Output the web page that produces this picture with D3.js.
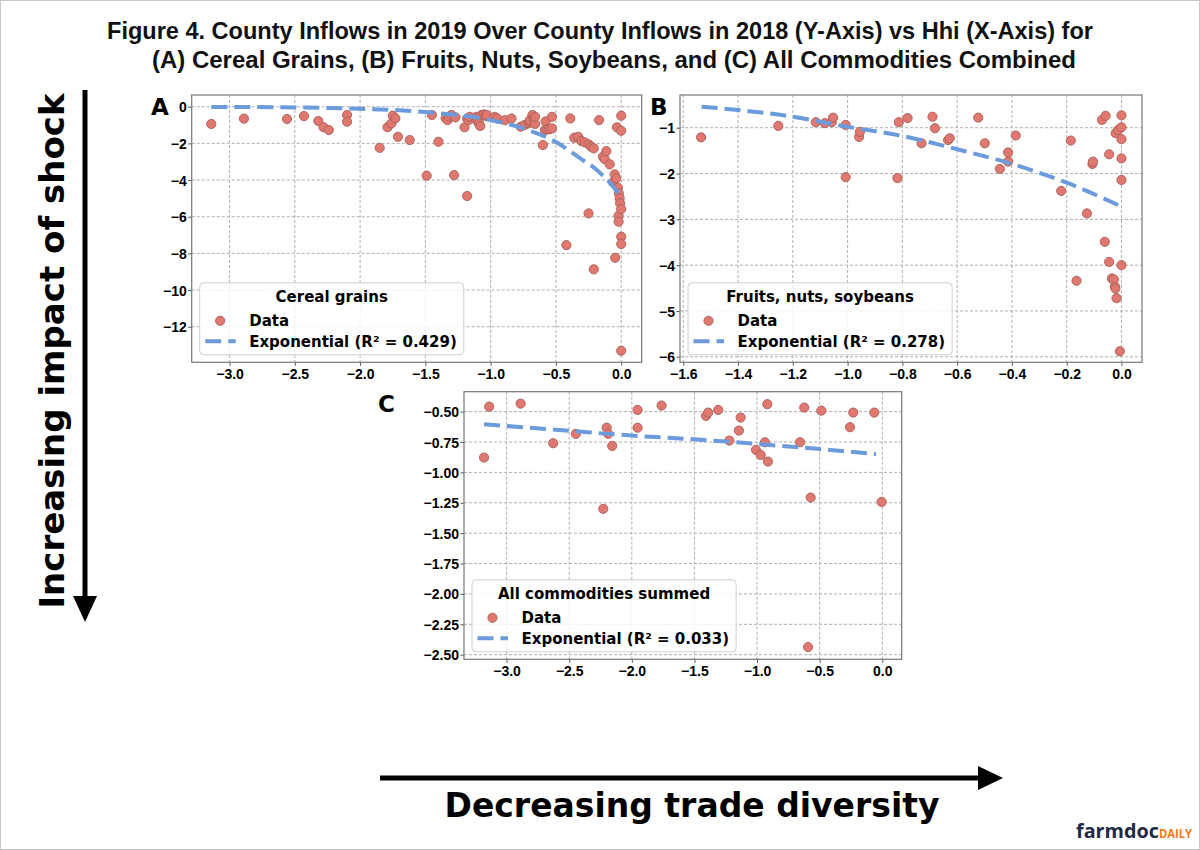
<!DOCTYPE html>
<html>
<head>
<meta charset="utf-8">
<script src="https://cdn.jsdelivr.net/npm/d3@7"></script>
<style>
body { margin: 0; background: #fff; }
svg { display: block; font-family: "DejaVu Sans", sans-serif; }
.tick text { font-weight: bold; font-size: 14px; fill: #000; }
.tick line { stroke: #555; }
.grid line { stroke: #b0b0b0; stroke-width: 1; stroke-dasharray: 3,2; }
.legend text { font-weight: bold; font-size: 15px; fill: #000; }
</style>
</head>
<body>
<svg id="chart" width="1200" height="850"></svg>
<script>
// ---- panel A: cereal grains ----
const cerealX = [-3.14,-2.89,-2.56,-2.43,-2.32,-2.28,-2.24,-2.10,-2.10,-1.85,-1.79,-1.76,-1.75,-1.73,-1.71,-1.62,
  -1.49,-1.45,-1.40,-1.345,-1.33,-1.32,-1.30,-1.28,-1.27,-1.20,-1.18,-1.18,-1.17,-1.16,-1.11,-1.11,-1.10,-1.09,-1.08,
  -1.07,-1.05,-1.04,-1.03,-0.97,-0.95,-0.89,-0.84,-0.77,-0.74,-0.71,-0.70,-0.70,-0.68,-0.67,-0.66,-0.66,-0.60,-0.585,
  -0.58,-0.57,-0.55,-0.53,-0.53,-0.42,-0.39,-0.36,-0.33,-0.305,-0.28,-0.25,-0.25,-0.23,-0.21,-0.21,-0.17,-0.14,-0.127,
  -0.114,-0.088,-0.063,-0.05,-0.046,-0.038,-0.033,-0.025,-0.02,-0.02,-0.018,-0.012,-0.008,0,0,0,0,0,0];
const cerealY = [-0.94,-0.65,-0.67,-0.51,-0.78,-1.12,-1.27,-0.45,-0.82,-2.24,-1.12,-0.91,-0.49,-0.63,-1.64,-1.82,
  -3.76,-0.45,-1.91,-0.63,-0.73,-0.54,-0.45,-3.73,-0.58,-1.12,-4.87,-0.64,-0.73,-0.55,-0.73,-0.55,-0.62,-0.91,-1.05,
  -0.45,-0.42,-0.50,-0.45,-0.55,-0.64,-0.73,-0.64,-1.09,-1.00,-0.91,-0.82,-0.73,-0.45,-0.64,-0.94,-0.55,-2.09,-1.27,
  -0.80,-1.23,-1.23,-1.18,-0.55,-7.55,-0.64,-1.69,-1.64,-1.87,-1.94,-2.05,-5.82,-2.18,-8.87,-2.27,-0.73,-2.73,-2.85,
  -2.42,-3.14,-4.12,-3.69,-8.24,-3.91,-1.12,-4.42,-5.95,-6.27,-4.73,-5.00,-5.27,-5.58,-7.09,-7.49,-0.49,-1.31,-13.31];
const cerealFitX = [-3.14,-2.5,-2.0,-1.5,-1.0,-0.75,-0.5,-0.3,-0.2,-0.1,0];
const cerealFitY = [-0.01,-0.04,-0.11,-0.29,-0.73,-1.18,-1.93,-2.88,-3.37,-4.05,-4.91];

// ---- panel B: fruits, nuts, soybeans ----
const fruitX = [-1.535,-1.253,-1.116,-1.083,-1.058,-1.053,-1.007,-1.007,-0.958,-0.955,-0.818,-0.813,-0.781,-0.73,
  -0.69,-0.681,-0.633,-0.627,-0.523,-0.499,-0.444,-0.414,-0.414,-0.386,-0.22,-0.185,-0.164,-0.126,-0.106,-0.104,
  -0.071,-0.058,-0.061,-0.045,-0.045,-0.035,-0.028,-0.024,-0.022,-0.018,-0.021,-0.012,0,0,0,0,0,0,-0.006];
const fruitY = [-1.21,-0.96,-0.88,-0.90,-0.88,-0.78,-0.94,-2.08,-1.20,-1.09,-2.10,-0.88,-0.79,-1.34,
  -0.76,-1.01,-1.27,-1.23,-0.78,-1.34,-1.90,-1.54,-1.74,-1.17,-2.38,-1.28,-4.34,-2.87,-1.79,-1.74,
  -0.83,-0.74,-3.49,-1.58,-3.93,-4.29,-4.31,-4.47,-4.51,-4.72,-1.12,-1.05,-0.73,-0.99,-1.25,-1.67,-2.14,-4.00,-5.88];
const fruitFitX = [-1.533,-1.2,-1.0,-0.8,-0.6,-0.4,-0.2,0];
const fruitFitY = [-0.54,-0.76,-0.98,-1.18,-1.47,-1.79,-2.20,-2.72];

// ---- panel C: all commodities ----
const allX = [-3.18,-3.139,-2.888,-2.628,-2.447,-2.228,-2.201,-2.188,-2.157,-1.954,-1.954,-1.762,-1.408,-1.39,-1.31,
  -1.222,-1.145,-1.131,-1.009,-0.971,-0.937,-0.918,-0.913,-0.657,-0.623,-0.572,-0.487,-0.593,-0.258,-0.232,-0.064,-0.005];
const allY = [-0.878,-0.459,-0.434,-0.76,-0.683,-1.30,-0.632,-0.683,-0.782,-0.486,-0.632,-0.45,-0.535,-0.508,-0.486,
  -0.738,-0.656,-0.549,-0.815,-0.856,-0.752,-0.439,-0.911,-0.752,-0.467,-1.207,-0.492,-2.437,-0.628,-0.508,-0.508,-1.243];
const allFitX = [-3.18,-2.5,-2.0,-1.5,-1.0,-0.5,-0.05];
const allFitY = [-0.604,-0.658,-0.697,-0.728,-0.766,-0.808,-0.850];

// axis limits and ticks
const cerealXLim = [-3.29, 0.157], cerealYLim = [-13.94, 0.64];
const fruitXLim = [-1.612, 0.075], fruitYLim = [-6.12, -0.286];
const allXLim = [-3.34, 0.155], allYLim = [-2.538, -0.336];
const cerealXTicks = [-3.0,-2.5,-2.0,-1.5,-1.0,-0.5,0.0];
const cerealYTicks = [0,-2,-4,-6,-8,-10,-12];
const fruitXTicks = [-1.6,-1.4,-1.2,-1.0,-0.8,-0.6,-0.4,-0.2,0.0];
const fruitYTicks = [-1,-2,-3,-4,-5,-6];
const allXTicks = [-3.0,-2.5,-2.0,-1.5,-1.0,-0.5,0.0];
const allYTicks = [-0.5,-0.75,-1.0,-1.25,-1.5,-1.75,-2.0,-2.25,-2.5];

const svg = d3.select("#chart");

svg.append("rect").attr("x", 0.5).attr("y", 0.5).attr("width", 1199).attr("height", 849)
  .attr("fill", "#fff").attr("stroke", "#c8c8c8");

const title = svg.append("g").attr("font-family", "Liberation Sans, Arial, sans-serif")
  .attr("font-weight", "bold").attr("font-size", 23).attr("text-anchor", "middle").attr("fill", "#111");
title.append("text").attr("x", 600).attr("y", 39).attr("textLength", 986).attr("lengthAdjust", "spacingAndGlyphs")
  .text("Figure 4. County Inflows in 2019 Over County Inflows in 2018 (Y-Axis) vs Hhi (X-Axis) for");
title.append("text").attr("x", 614).attr("y", 68).attr("textLength", 924).attr("lengthAdjust", "spacingAndGlyphs")
  .text("(A) Cereal Grains, (B) Fruits, Nuts, Soybeans, and (C) All Commodities Combined");

function drawPanel(p) {
  const x = d3.scaleLinear().domain(p.xLim).range([p.left, p.right]);
  const y = d3.scaleLinear().domain(p.yLim).range([p.bottom, p.top]);
  const g = svg.append("g");

  // grid
  const grid = g.append("g").attr("class", "grid");
  grid.selectAll(".gx").data(p.xTicks).join("line")
    .attr("x1", d => x(d)).attr("x2", d => x(d)).attr("y1", p.top).attr("y2", p.bottom);
  grid.selectAll(".gy").data(p.yTicks).join("line").attr("class", "gy")
    .attr("y1", d => y(d)).attr("y2", d => y(d)).attr("x1", p.left).attr("x2", p.right);

  // axes
  g.append("g").attr("transform", `translate(0,${p.bottom})`)
    .call(d3.axisBottom(x).tickValues(p.xTicks).tickFormat(d3.format(p.xFmt)).tickSize(3.5).tickPadding(3.5))
    .call(a => a.select(".domain").remove());
  g.append("g").attr("transform", `translate(${p.left},0)`)
    .call(d3.axisLeft(y).tickValues(p.yTicks).tickFormat(d3.format(p.yFmt)).tickSize(3.5).tickPadding(1.5))
    .call(a => a.select(".domain").remove())
    .call(a => a.selectAll("text").attr("dy", "0.36em"));
  g.selectAll(".tick").attr("font-family", null).attr("font-size", null);

  // points
  const pts = p.xs.map((d, i) => [d, p.ys[i]]);
  g.append("g").selectAll("circle").data(pts).join("circle")
    .attr("cx", d => x(d[0])).attr("cy", d => y(d[1])).attr("r", 4.6)
    .attr("fill", "#e07870").attr("stroke", "#a85f58").attr("stroke-width", 0.9);

  // fit line
  const fit = p.fitX.map((d, i) => [d, p.fitY[i]]);
  g.append("path").datum(fit)
    .attr("d", d3.line().x(d => x(d[0])).y(d => y(d[1])).curve(d3.curveMonotoneX))
    .attr("fill", "none").attr("stroke", "#6b9bdc").attr("stroke-width", 4).attr("stroke-dasharray", "16,7");

  // spines
  g.append("rect").attr("x", p.left).attr("y", p.top).attr("width", p.right - p.left).attr("height", p.bottom - p.top)
    .attr("fill", "none").attr("stroke", "#777").attr("stroke-width", 1.2);

  // legend
  const lg = g.append("g").attr("class", "legend");
  const box = lg.append("rect").attr("rx", 4).attr("fill", "#fff").attr("fill-opacity", 0.8)
    .attr("stroke", "#cfcfcf");
  const lx = p.left + 8, h = 72, ly = p.bottom - 7.5 - h;
  const t1 = lg.append("text").attr("text-anchor", "middle").attr("y", ly + 19.5).text(p.legendTitle);
  const e1 = lg.append("text").attr("x", lx + 49.5).attr("y", ly + 43).text("Data");
  const e2 = lg.append("text").attr("x", lx + 49.5).attr("y", ly + 64).text(p.fitLabel);
  const w = Math.max(t1.node().getComputedTextLength() + 30, 49.5 + e2.node().getComputedTextLength() + 7);
  box.attr("x", lx).attr("y", ly).attr("width", w).attr("height", h);
  t1.attr("x", lx + w / 2);
  lg.append("circle").attr("cx", lx + 20.5).attr("cy", ly + 38).attr("r", 4.6)
    .attr("fill", "#e07870").attr("stroke", "#a85f58").attr("stroke-width", 0.9);
  lg.append("line").attr("x1", lx + 5.5).attr("x2", lx + 36).attr("y1", ly + 58.5).attr("y2", ly + 58.5)
    .attr("stroke", "#6b9bdc").attr("stroke-width", 4).attr("stroke-dasharray", "16,7");

  // panel letter
  svg.append("text").attr("x", p.letterX).attr("y", p.letterY).attr("font-weight", "bold")
    .attr("font-size", 23).text(p.letter);
}

drawPanel({ left: 191.7, right: 641.7, top: 95, bottom: 362.3, xLim: cerealXLim, yLim: cerealYLim,
  xTicks: cerealXTicks, yTicks: cerealYTicks, xFmt: ".1f", yFmt: "d", xs: cerealX, ys: cerealY,
  fitX: cerealFitX, fitY: cerealFitY, legendTitle: "Cereal grains", fitLabel: "Exponential (R\u00b2 = 0.429)",
  letter: "A", letterX: 151, letterY: 115 });
drawPanel({ left: 680, right: 1142, top: 95, bottom: 362.3, xLim: fruitXLim, yLim: fruitYLim,
  xTicks: fruitXTicks, yTicks: fruitYTicks, xFmt: ".1f", yFmt: "d", xs: fruitX, ys: fruitY,
  fitX: fruitFitX, fitY: fruitFitY, legendTitle: "Fruits, nuts, soybeans", fitLabel: "Exponential (R\u00b2 = 0.278)",
  letter: "B", letterX: 650, letterY: 115 });
drawPanel({ left: 464, right: 901.7, top: 391.7, bottom: 659.3, xLim: allXLim, yLim: allYLim,
  xTicks: allXTicks, yTicks: allYTicks, xFmt: ".1f", yFmt: ".2f", xs: allX, ys: allY,
  fitX: allFitX, fitY: allFitY, legendTitle: "All commodities summed", fitLabel: "Exponential (R\u00b2 = 0.033)",
  letter: "C", letterX: 378, letterY: 412 });

// big direction arrows
svg.append("line").attr("x1", 85).attr("x2", 85).attr("y1", 90).attr("y2", 600)
  .attr("stroke", "#000").attr("stroke-width", 5);
svg.append("path").attr("d", "M73,596 L97,596 L85,622 Z").attr("fill", "#000");
svg.append("line").attr("x1", 380).attr("x2", 985).attr("y1", 778).attr("y2", 778)
  .attr("stroke", "#000").attr("stroke-width", 5);
svg.append("path").attr("d", "M978,766 L978,790 L1003,778 Z").attr("fill", "#000");

svg.append("text").attr("transform", "translate(64,351) rotate(-90)").attr("text-anchor", "middle")
  .attr("font-weight", "bold").attr("font-size", 34).text("Increasing impact of shock");
svg.append("text").attr("x", 692).attr("y", 817).attr("text-anchor", "middle")
  .attr("font-weight", "bold").attr("font-size", 33).text("Decreasing trade diversity");

// logo
const logo = svg.append("text").attr("x", 1076).attr("y", 837.5).attr("font-family", "Open Sans, sans-serif")
  .attr("font-weight", "bold");
logo.append("tspan").attr("fill", "#1f2a47").attr("font-size", 20).attr("textLength", 83)
  .attr("lengthAdjust", "spacingAndGlyphs").text("farmdoc");
logo.append("tspan").attr("fill", "#f47b20").attr("font-size", 13).attr("textLength", 33)
  .attr("lengthAdjust", "spacingAndGlyphs").text("DAILY");
</script>
</body>
</html>
